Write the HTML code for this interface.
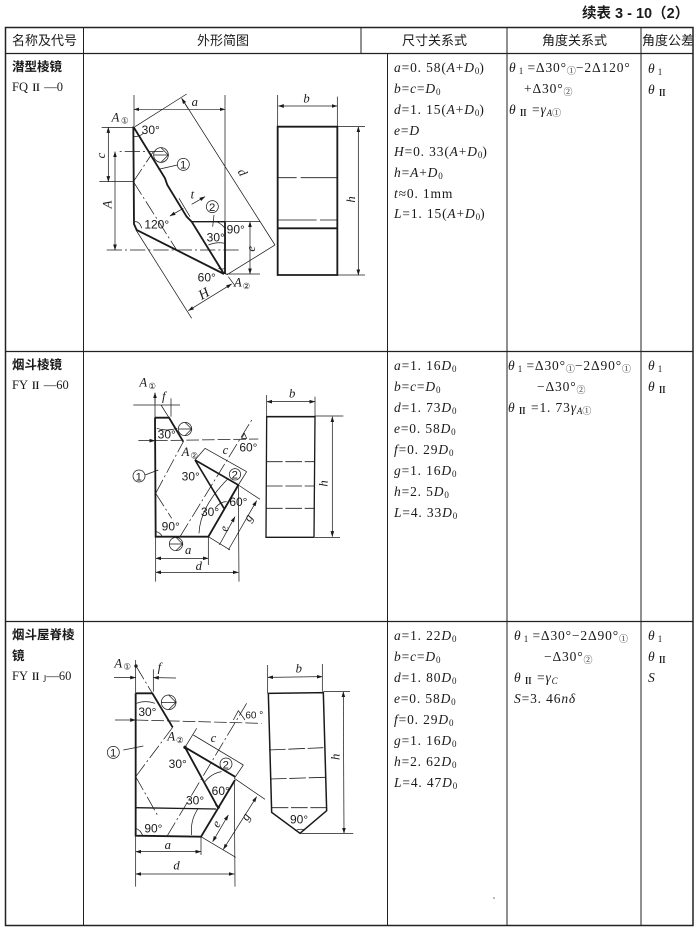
<!DOCTYPE html>
<html><head><meta charset="utf-8"><style>
html,body{margin:0;padding:0;background:#fff}
svg{display:block;filter:blur(.35px)}
text{font-family:"Liberation Serif","Noto Serif CJK SC",serif;fill:#1a1a1a;font-size:13.5px;letter-spacing:.85px}
.i{font-style:italic}
.c{font-family:"Liberation Sans","Noto Sans CJK SC",sans-serif;font-size:13px;letter-spacing:0}
.b{font-family:"Liberation Sans","Noto Sans CJK SC",sans-serif;font-size:12.5px;font-weight:700;letter-spacing:0}
.l{font-size:12.5px;letter-spacing:0}
.ii{font-size:10px;font-weight:700}
.s{font-size:9px;letter-spacing:0}
.d text{font-size:38px;font-family:"Liberation Serif","Noto Serif CJK SC",serif;letter-spacing:0}
.d .n{font-size:36px;font-family:"Liberation Sans",sans-serif}
.d .i{font-style:italic}
.d line,.d path,.d polyline,.d circle{fill:none;stroke:#1a1a1a;stroke-width:2.2}
.d .t{stroke-width:5.5}
.d .m{stroke-width:4}
.d .dd{stroke-dasharray:46 9 6 9}
.d .da{stroke-dasharray:44 10}
.d .f{fill:#1a1a1a;stroke:none}
</style></head><body>
<svg width="700" height="931" viewBox="0 0 700 931" xmlns="http://www.w3.org/2000/svg">
<defs>
<marker id="a" markerWidth="8" markerHeight="6" refX="7.5" refY="3" orient="auto-start-reverse"><path d="M0 0.5L8 3L0 5.5z" style="fill:#1a1a1a;stroke:none"/></marker>
</defs>
<rect width="700" height="931" fill="#fff"/>
<!-- table -->
<g stroke="#222" fill="none">
<rect x="5.5" y="27.5" width="687.5" height="898" stroke-width="1.5"/>
<path d="M5 53.5H693M5 351.5H693M5 621.5H693" stroke-width="1.2"/>
<path d="M83.5 27V926M361 27V54M387.5 54V926M507 27V926M641 27V926" stroke-width="1"/>
</g>
<text x="582" y="18" class="b" style="font-size:14.5px">续表 3 - 10（2）</text>
<text x="12" y="45" class="c">名称及代号</text>
<text x="197" y="45" class="c">外形简图</text>
<text x="402" y="45" class="c">尺寸关系式</text>
<text x="542" y="45" class="c">角度关系式</text>
<svg x="642" y="30" width="51" height="22" overflow="hidden"><text x="0" y="15" class="c">角度公差</text></svg>

<text x="12" y="71" class="b">潜型棱镜</text>
<text x="12" y="91" class="l">FQ <tspan class="ii">Ⅱ</tspan> —0</text>
<text x="12" y="369" class="b">烟斗棱镜</text>
<text x="12" y="389" class="l">FY <tspan class="ii">Ⅱ</tspan> —60</text>
<text x="12" y="639" class="b">烟斗屋脊棱</text>
<text x="12" y="660" class="b">镜</text>
<text x="12" y="680" class="l">FY <tspan class="ii">Ⅱ</tspan><tspan class="s" dy="2"> J</tspan><tspan dy="-2">—60</tspan></text>

<!-- col 3 row 1 -->
<text x="394" y="72"><tspan class="i">a</tspan>=0. 58(<tspan class="i">A</tspan>+<tspan class="i">D</tspan><tspan class="s" dy="2">0</tspan><tspan dy="-2">)</tspan></text>
<text x="394" y="93"><tspan class="i">b</tspan>=<tspan class="i">c</tspan>=<tspan class="i">D</tspan><tspan class="s" dy="2">0</tspan></text>
<text x="394" y="114"><tspan class="i">d</tspan>=1. 15(<tspan class="i">A</tspan>+<tspan class="i">D</tspan><tspan class="s" dy="2">0</tspan><tspan dy="-2">)</tspan></text>
<text x="394" y="135"><tspan class="i">e</tspan>=<tspan class="i">D</tspan></text>
<text x="394" y="156"><tspan class="i">H</tspan>=0. 33(<tspan class="i">A</tspan>+<tspan class="i">D</tspan><tspan class="s" dy="2">0</tspan><tspan dy="-2">)</tspan></text>
<text x="394" y="177"><tspan class="i">h</tspan>=<tspan class="i">A</tspan>+<tspan class="i">D</tspan><tspan class="s" dy="2">0</tspan></text>
<text x="394" y="198"><tspan class="i">t</tspan>≈0. 1mm</text>
<text x="394" y="218"><tspan class="i">L</tspan>=1. 15(<tspan class="i">A</tspan>+<tspan class="i">D</tspan><tspan class="s" dy="2">0</tspan><tspan dy="-2">)</tspan></text>
<!-- col 4 row 1 -->
<text x="509" y="72"><tspan class="i">θ</tspan><tspan class="s" dy="2"> 1</tspan><tspan dy="-2"> =Δ30°</tspan><tspan class="s" dy="2">①</tspan><tspan dy="-2">−2Δ120°</tspan></text>
<text x="524" y="93">+Δ30°<tspan class="s" dy="2">②</tspan></text>
<text x="509" y="114"><tspan class="i">θ</tspan><tspan class="s" dy="2" font-weight="700"> Ⅱ</tspan><tspan dy="-2"> =</tspan><tspan class="i">γ</tspan><tspan class="s i" dy="2">A</tspan><tspan class="s">①</tspan></text>
<text x="648" y="73"><tspan class="i">θ</tspan><tspan class="s" dy="2"> 1</tspan></text>
<text x="648" y="94"><tspan class="i">θ</tspan><tspan class="s" dy="2" font-weight="700"> Ⅱ</tspan></text>

<!-- row 2 -->
<text x="394" y="370"><tspan class="i">a</tspan>=1. 16<tspan class="i">D</tspan><tspan class="s" dy="2">0</tspan></text>
<text x="394" y="391"><tspan class="i">b</tspan>=<tspan class="i">c</tspan>=<tspan class="i">D</tspan><tspan class="s" dy="2">0</tspan></text>
<text x="394" y="412"><tspan class="i">d</tspan>=1. 73<tspan class="i">D</tspan><tspan class="s" dy="2">0</tspan></text>
<text x="394" y="433"><tspan class="i">e</tspan>=0. 58<tspan class="i">D</tspan><tspan class="s" dy="2">0</tspan></text>
<text x="394" y="454"><tspan class="i">f</tspan>=0. 29<tspan class="i">D</tspan><tspan class="s" dy="2">0</tspan></text>
<text x="394" y="475"><tspan class="i">g</tspan>=1. 16<tspan class="i">D</tspan><tspan class="s" dy="2">0</tspan></text>
<text x="394" y="496"><tspan class="i">h</tspan>=2. 5<tspan class="i">D</tspan><tspan class="s" dy="2">0</tspan></text>
<text x="394" y="517"><tspan class="i">L</tspan>=4. 33<tspan class="i">D</tspan><tspan class="s" dy="2">0</tspan></text>
<text x="508" y="370"><tspan class="i">θ</tspan><tspan class="s" dy="2"> 1</tspan><tspan dy="-2"> =Δ30°</tspan><tspan class="s" dy="2">①</tspan><tspan dy="-2">−2Δ90°</tspan><tspan class="s" dy="2">①</tspan></text>
<text x="537" y="391">−Δ30°<tspan class="s" dy="2">②</tspan></text>
<text x="508" y="412"><tspan class="i">θ</tspan><tspan class="s" dy="2" font-weight="700"> Ⅱ</tspan><tspan dy="-2"> =1. 73</tspan><tspan class="i">γ</tspan><tspan class="s i" dy="2">A</tspan><tspan class="s">①</tspan></text>
<text x="648" y="370"><tspan class="i">θ</tspan><tspan class="s" dy="2"> 1</tspan></text>
<text x="648" y="391"><tspan class="i">θ</tspan><tspan class="s" dy="2" font-weight="700"> Ⅱ</tspan></text>

<!-- row 3 -->
<text x="394" y="640"><tspan class="i">a</tspan>=1. 22<tspan class="i">D</tspan><tspan class="s" dy="2">0</tspan></text>
<text x="394" y="661"><tspan class="i">b</tspan>=<tspan class="i">c</tspan>=<tspan class="i">D</tspan><tspan class="s" dy="2">0</tspan></text>
<text x="394" y="682"><tspan class="i">d</tspan>=1. 80<tspan class="i">D</tspan><tspan class="s" dy="2">0</tspan></text>
<text x="394" y="703"><tspan class="i">e</tspan>=0. 58<tspan class="i">D</tspan><tspan class="s" dy="2">0</tspan></text>
<text x="394" y="724"><tspan class="i">f</tspan>=0. 29<tspan class="i">D</tspan><tspan class="s" dy="2">0</tspan></text>
<text x="394" y="745"><tspan class="i">g</tspan>=1. 16<tspan class="i">D</tspan><tspan class="s" dy="2">0</tspan></text>
<text x="394" y="766"><tspan class="i">h</tspan>=2. 62<tspan class="i">D</tspan><tspan class="s" dy="2">0</tspan></text>
<text x="394" y="787"><tspan class="i">L</tspan>=4. 47<tspan class="i">D</tspan><tspan class="s" dy="2">0</tspan></text>
<text x="514" y="640"><tspan class="i">θ</tspan><tspan class="s" dy="2"> 1</tspan><tspan dy="-2"> =Δ30°−2Δ90°</tspan><tspan class="s" dy="2">①</tspan></text>
<text x="544" y="661">−Δ30°<tspan class="s" dy="2">②</tspan></text>
<text x="514" y="682"><tspan class="i">θ</tspan><tspan class="s" dy="2" font-weight="700"> Ⅱ</tspan><tspan dy="-2"> =</tspan><tspan class="i">γ</tspan><tspan class="s i" dy="2">C</tspan></text>
<text x="514" y="703"><tspan class="i">S</tspan>=3. 46<tspan class="i">nδ</tspan></text>
<text x="648" y="640"><tspan class="i">θ</tspan><tspan class="s" dy="2"> 1</tspan></text>
<text x="648" y="661"><tspan class="i">θ</tspan><tspan class="s" dy="2" font-weight="700"> Ⅱ</tspan></text>
<text x="648" y="682" class="i">S</text>

<!-- diagram 1 -->
<g class="d" transform="translate(90 80) scale(.33333)">
<path class="t" d="M130 140L132 432L140 450L402 582M130 140L225 295L232 315L290 410L305 425L402 582M405 425V582"/>
<path class="m" d="M305 425H405"/>
<path d="M132 45V140M405 45V580M135 140L290 42M275 55L555 495M410 585L555 495M35 142H130M28 305H130M405 425H510M405 582H510M267 355L300 410M138 450L305 715M415 590L437 620M563 45V140M742 50V140M742 140H825M742 585H825M205 268L262 255M368 440L372 405"/>
<line x1="132" y1="88" x2="405" y2="88" marker-start="url(#a)" marker-end="url(#a)" style="stroke-width:2"/>
<line x1="275" y1="55" x2="295" y2="87" marker-start="url(#a)"/>
<line x1="55" y1="142" x2="55" y2="305" marker-start="url(#a)" marker-end="url(#a)"/>
<line x1="75" y1="215" x2="75" y2="510" marker-start="url(#a)" marker-end="url(#a)"/>
<line x1="480" y1="425" x2="480" y2="582" marker-start="url(#a)" marker-end="url(#a)"/>
<line x1="295" y1="692" x2="425" y2="612" marker-start="url(#a)" marker-end="url(#a)"/>
<line x1="240" y1="408" x2="280" y2="385" marker-start="url(#a)"/>
<line x1="345" y1="350" x2="305" y2="373" marker-start="url(#a)"/>
<line x1="565" y1="78" x2="742" y2="78" marker-start="url(#a)" marker-end="url(#a)"/>
<line x1="805" y1="140" x2="805" y2="585" marker-start="url(#a)" marker-end="url(#a)"/>
<path class="dd" d="M220 215H80M50 510H455M130 305L190 215M130 305L260 510"/>
<circle cx="213" cy="225" r="22"/>
<path d="M191 225H235L213 203M235 225L213 247"/>
<circle cx="280" cy="253" r="18"/><text x="270" y="266" class="n" style="font-size:34px">1</text>
<circle cx="367" cy="380" r="18"/><text x="357" y="393" class="n" style="font-size:34px">2</text>
<path d="M130 170Q150 170 160 160M135 425Q150 425 155 445M380 425Q395 432 405 445M355 495Q380 485 405 490M385 565Q395 570 405 565"/>
<text x="65" y="125" class="i">A</text><text x="93" y="130" class="n" style="font-size:26px">①</text>
<text x="155" y="162" class="n">30°</text>
<text x="163" y="445" class="n">120°</text>
<text x="410" y="460" class="n">90°</text>
<text x="350" y="484" class="n">30°</text>
<text x="323" y="605" class="n">60°</text>
<text x="432" y="620" class="i">A</text><text x="458" y="627" class="n" style="font-size:26px">②</text>
<text x="305" y="78" class="i">a</text>
<text x="302" y="355" class="i">t</text>
<text x="640" y="68" class="i">b</text>
<text x="45" y="235" class="i" transform="rotate(-90 45 235)">c</text>
<text x="65" y="385" class="i" transform="rotate(-90 65 385)">A</text>
<text x="442" y="275" class="i" transform="rotate(60 442 275)">d</text>
<text x="495" y="515" class="i" transform="rotate(-90 495 515)">e</text>
<text x="335" y="660" class="i" style="font-size:42px" transform="rotate(-30 335 660)">H</text>
<text x="795" y="368" class="i" transform="rotate(-90 795 368)">h</text>
<path class="t" d="M563 140H742V585H563ZM563 445H742"/>
<path class="m" d="M563 140V585"/>
<path d="M563 293H620M632 293H742M563 420H680M690 420H742" class="m" style="stroke-width:2.4"/>
</g>

<!-- diagram 2 -->
<g class="d" transform="translate(100 370) scale(.33333)">
<path class="t" d="M165 143H207L250 215M165 143L167 500H325L415 345"/>
<path class="t" d="M285 270L415 345M285 270L372 415" style="stroke-width:5"/>
<path d="M207 143L183 105M213 85V140M165 75V143M100 105H240M415 345L480 388M325 500L390 540M167 500V635M325 500V585M415 345L417 635M315 235L440 305M285 270L315 235M440 305L415 345M135 315L175 300M500 75V140M645 80V140M645 138H730M645 502H720"/>
<line x1="165" y1="100" x2="165" y2="68" marker-end="url(#a)"/>
<line x1="167" y1="565" x2="325" y2="565" marker-start="url(#a)" marker-end="url(#a)"/>
<line x1="167" y1="607" x2="415" y2="607" marker-start="url(#a)" marker-end="url(#a)"/>
<line x1="470" y1="392" x2="385" y2="540" marker-start="url(#a)"/>
<line x1="358" y1="525" x2="405" y2="440" marker-end="url(#a)"/>
<line x1="500" y1="95" x2="645" y2="95" marker-start="url(#a)" marker-end="url(#a)"/>
<line x1="697" y1="140" x2="697" y2="500" marker-start="url(#a)" marker-end="url(#a)"/>
<line x1="165" y1="212" x2="115" y2="212" marker-start="url(#a)"/>
<path d="M297 490Q300 410 385 325M345 415Q360 395 380 395M168 485Q180 487 187 500M170 175Q200 185 232 175"/>
<path class="da" d="M165 212L475 207" style="stroke-dasharray:38 9"/>
<path class="dd" d="M167 370L250 215M167 370L215 445M240 500L455 150"/>
<path d="M425 205L433 190L440 205Z"/>
<circle cx="255" cy="177" r="20"/>
<path d="M237 177H275L255 157M275 177L255 197"/>
<circle cx="228" cy="522" r="20"/>
<path d="M208 522H248L228 502M248 522L228 542"/>
<circle cx="117" cy="318" r="18"/><text x="107" y="331" class="n" style="font-size:34px">1</text>
<circle cx="405" cy="313" r="17"/><text x="395" y="326" class="n" style="font-size:34px">2</text>
<text x="118" y="50" class="i">A</text><text x="145" y="57" class="n" style="font-size:26px">①</text>
<text x="186" y="92" class="i">f</text>
<text x="173" y="205" class="n">30°</text>
<text x="418" y="244" class="n">60°</text>
<text x="245" y="258" class="i">A</text><text x="271" y="266" class="n" style="font-size:26px">②</text>
<text x="368" y="252" class="i">c</text>
<text x="245" y="332" class="n">30°</text>
<text x="303" y="438" class="n">30°</text>
<text x="388" y="408" class="n">60°</text>
<text x="185" y="482" class="n">90°</text>
<text x="255" y="552" class="i">a</text>
<text x="287" y="600" class="i">d</text>
<text x="567" y="82" class="i">b</text>
<text x="385" y="485" class="i" transform="rotate(-90 385 485)">e</text>
<text x="450" y="458" class="i" transform="rotate(-60 450 458)">g</text>
<text x="682" y="350" class="i" transform="rotate(-90 682 350)">h</text>
<path class="m" d="M500 140H645L642 502H498Z"/>
<path class="t" d="M500 140H645" style="stroke-width:4.5"/>
<path class="da" d="M498 275H642M498 348H642M498 415H642" style="stroke-dasharray:50 8;stroke-width:2.4"/>
</g>

<!-- diagram 3 -->
<g class="d" transform="translate(90 640) scale(.33333)">
<path class="t" d="M137 160H187L248 262M137 160V587L333 590L435 420M285 322L385 505M285 322L435 410"/>
<path class="m" d="M137 503L378 507"/>
<path d="M190 88V155M137 60V160M433 415L525 478M333 590L437 652M137 590V740M333 590V645M433 425L435 740M310 285L460 375M285 322L320 265M460 375L433 415M100 330L160 318M533 75V160M697 72V155M700 155H780M630 580H790"/>
<circle class="f" cx="138" cy="78" r="5"/>
<circle class="f" cx="285" cy="322" r="5"/>
<line x1="72" y1="112" x2="137" y2="113" marker-end="url(#a)"/>
<line x1="258" y1="114" x2="190" y2="113" marker-end="url(#a)"/>
<line x1="137" y1="635" x2="333" y2="635" marker-start="url(#a)" marker-end="url(#a)"/>
<line x1="137" y1="702" x2="433" y2="702" marker-start="url(#a)" marker-end="url(#a)"/>
<line x1="368" y1="605" x2="415" y2="525" marker-start="url(#a)" marker-end="url(#a)"/>
<line x1="400" y1="628" x2="500" y2="470" marker-start="url(#a)" marker-end="url(#a)"/>
<line x1="533" y1="112" x2="697" y2="110" marker-start="url(#a)" marker-end="url(#a)"/>
<line x1="760" y1="155" x2="762" y2="580" marker-start="url(#a)" marker-end="url(#a)"/>
<line x1="75" y1="240" x2="137" y2="240" marker-end="url(#a)"/>
<path d="M305 585Q300 540 325 505M345 425Q365 400 395 395M137 565Q152 570 158 587M140 190Q165 180 195 190M430 240L445 212L465 240M375 495Q385 495 390 505"/>
<path class="da" d="M137 240L515 250" style="stroke-dasharray:38 9"/>
<path class="dd" d="M138 78L187 160M137 410L248 262M137 410L205 530M232 587L470 190"/>
<circle cx="236" cy="187" r="22"/>
<path d="M214 187H258L236 165M258 187L236 209"/>
<circle cx="70" cy="337" r="18"/><text x="60" y="350" class="n" style="font-size:34px">1</text>
<circle cx="408" cy="372" r="18"/><text x="398" y="385" class="n" style="font-size:34px">2</text>
<text x="73" y="82" class="i">A</text><text x="100" y="89" class="n" style="font-size:26px">①</text>
<text x="203" y="95" class="i">f</text>
<text x="145" y="228" class="n">30°</text>
<text x="466" y="235" class="n" style="font-size:30px">60 °</text>
<text x="232" y="302" class="i">A</text><text x="258" y="309" class="n" style="font-size:26px">②</text>
<text x="362" y="306" class="i">c</text>
<text x="236" y="384" class="n">30°</text>
<text x="288" y="494" class="n">30°</text>
<text x="365" y="465" class="n">60°</text>
<text x="163" y="577" class="n">90°</text>
<text x="224" y="627" class="i">a</text>
<text x="250" y="688" class="i">d</text>
<text x="617" y="98" class="i">b</text>
<text x="385" y="565" class="i" transform="rotate(-60 385 565)">e</text>
<text x="472" y="545" class="i" transform="rotate(-60 472 545)">g</text>
<text x="748" y="360" class="i" transform="rotate(-90 748 360)">h</text>
<text x="600" y="550" class="n">90°</text>
<path class="t" d="M535 160L700 158L710 512L630 580L545 517Z" style="stroke-width:4.5"/>
<path d="M615 572Q630 565 645 570"/>
<path class="da" d="M537 330L700 323M540 417L705 412M545 503L708 503" style="stroke-dasharray:50 8;stroke-width:2.4"/>
</g>
<circle cx="494" cy="898" r=".8" fill="#666"/>
</svg>
</body></html>
